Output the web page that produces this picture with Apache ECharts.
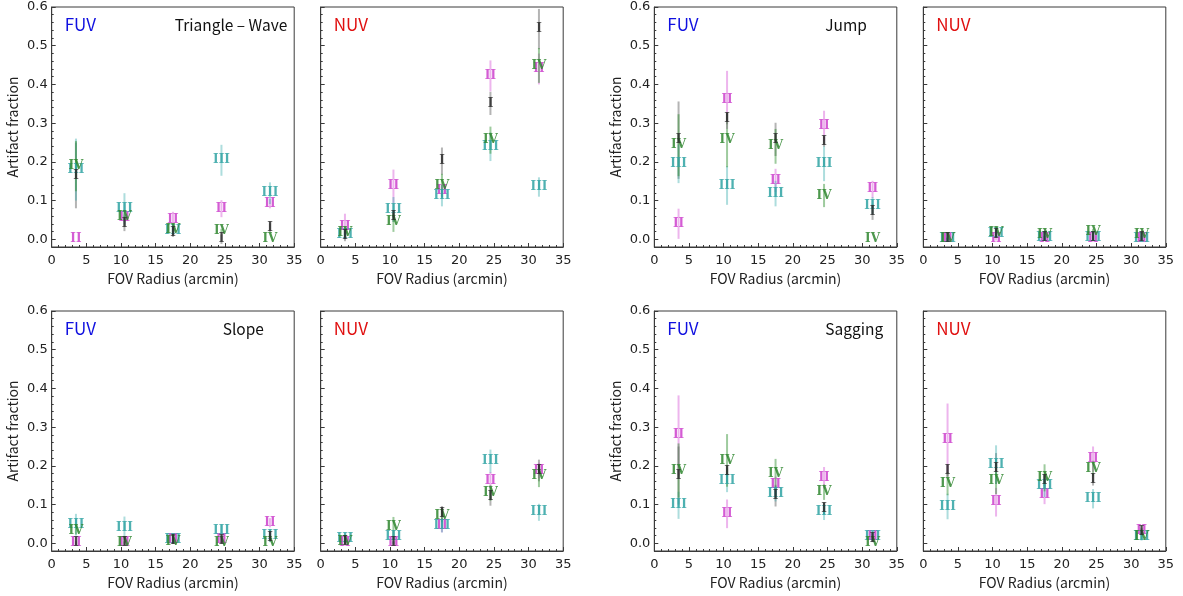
<!DOCTYPE html>
<html><head><meta charset="utf-8">
<script src="https://cdn.jsdelivr.net/npm/echarts@6/dist/echarts.min.js"></script>
<style>html,body{margin:0;padding:0;background:#fff}#c{width:1183px;height:596px}</style>
</head><body><div id="c"></div>
<script>
// ---------- data ----------
const radii = [3.5, 10.5, 17.5, 24.5, 31.5];
const numerals = ['I', 'II', 'III', 'IV'];
const yTickValues = [0, 0.1, 0.2, 0.3, 0.4, 0.5, 0.6];
const xTickValues = [0, 5, 10, 15, 20, 25, 30, 35];

// Triangle – Wave, FUV
const waveFUV_I = [0.165, 0.041, 0.016, 0.0, 0.029];
const waveFUV_I_err = [0.085, 0.02, 0.01, 0.012, 0.012];
const waveFUV_II = [0.0, 0.055, 0.051, 0.079, 0.092];
const waveFUV_II_err = [0.0, 0.01, 0.02, 0.022, 0.012];
const waveFUV_III = [0.18, 0.079, 0.022, 0.204, 0.119];
const waveFUV_III_err = [0.08, 0.04, 0.01, 0.04, 0.028];
const waveFUV_IV = [0.189, 0.059, 0.024, 0.022, 0.0];
const waveFUV_IV_err = [0.065, 0.01, 0.01, 0.005, 0.0];
// Triangle – Wave, NUV
const waveNUV_I = [0.01, 0.057, 0.202, 0.351, 0.543];
const waveNUV_I_err = [0.015, 0.012, 0.035, 0.03, 0.052];
const waveNUV_II = [0.033, 0.137, 0.126, 0.422, 0.44];
const waveNUV_II_err = [0.033, 0.043, 0.015, 0.04, 0.04];
const waveNUV_III = [0.012, 0.077, 0.113, 0.239, 0.135];
const waveNUV_III_err = [0.012, 0.032, 0.028, 0.037, 0.025];
const waveNUV_IV = [0.016, 0.044, 0.139, 0.256, 0.449];
const waveNUV_IV_err = [0.012, 0.025, 0.03, 0.035, 0.045];
// Jump, FUV
const jumpFUV_I = [0.256, 0.312, 0.258, 0.252, 0.07];
const jumpFUV_I_err = [0.1, 0.015, 0.043, 0.013, 0.02];
const jumpFUV_II = [0.04, 0.36, 0.152, 0.293, 0.129];
const jumpFUV_II_err = [0.039, 0.075, 0.03, 0.039, 0.022];
const jumpFUV_III = [0.195, 0.139, 0.118, 0.195, 0.087];
const jumpFUV_III_err = [0.05, 0.05, 0.033, 0.045, 0.022];
const jumpFUV_IV = [0.243, 0.256, 0.24, 0.113, 0.0];
const jumpFUV_IV_err = [0.08, 0.07, 0.045, 0.03, 0.0];
// Jump, NUV
const jumpNUV_I = [0.0, 0.011, 0.003, 0.003, 0.003];
const jumpNUV_I_err = [0.004, 0.006, 0.005, 0.005, 0.005];
const jumpNUV_II = [0.0, 0.001, 0.0, 0.001, 0.0];
const jumpNUV_II_err = [0.002, 0.004, 0.003, 0.004, 0.003];
const jumpNUV_III = [0.0, 0.014, 0.003, 0.004, 0.002];
const jumpNUV_III_err = [0.004, 0.006, 0.005, 0.006, 0.005];
const jumpNUV_IV = [0.0, 0.016, 0.012, 0.02, 0.011];
const jumpNUV_IV_err = [0.004, 0.006, 0.006, 0.007, 0.006];
// Slope, FUV
const slopeFUV_I = [0.0, 0.0, 0.007, 0.007, 0.014];
const slopeFUV_I_err = [0.005, 0.005, 0.005, 0.006, 0.01];
const slopeFUV_II = [0.0, 0.0, 0.01, 0.009, 0.053];
const slopeFUV_II_err = [0.0, 0.0, 0.005, 0.008, 0.012];
const slopeFUV_III = [0.048, 0.039, 0.009, 0.033, 0.02];
const slopeFUV_III_err = [0.028, 0.03, 0.008, 0.015, 0.017];
const slopeFUV_IV = [0.033, 0.0, 0.003, 0.0, 0.0];
const slopeFUV_IV_err = [0.01, 0.0, 0.005, 0.0, 0.0];
// Slope, NUV
const slopeNUV_I = [0.003, 0.0, 0.076, 0.119, 0.188];
const slopeNUV_I_err = [0.005, 0.005, 0.02, 0.022, 0.028];
const slopeNUV_II = [0.0, 0.0, 0.046, 0.162, 0.188];
const slopeNUV_II_err = [0.005, 0.005, 0.018, 0.022, 0.02];
const slopeNUV_III = [0.011, 0.016, 0.046, 0.212, 0.08];
const slopeNUV_III_err = [0.01, 0.018, 0.018, 0.03, 0.022];
const slopeNUV_IV = [0.003, 0.043, 0.072, 0.13, 0.175];
const slopeNUV_IV_err = [0.005, 0.025, 0.018, 0.02, 0.03];
// Sagging, FUV
const sagFUV_I = [0.175, 0.184, 0.123, 0.089, 0.011];
const sagFUV_I_err = [0.075, 0.012, 0.028, 0.014, 0.008];
const sagFUV_II = [0.279, 0.076, 0.152, 0.169, 0.016];
const sagFUV_II_err = [0.103, 0.037, 0.02, 0.028, 0.008];
const sagFUV_III = [0.098, 0.162, 0.128, 0.082, 0.016];
const sagFUV_III_err = [0.035, 0.03, 0.02, 0.022, 0.01];
const sagFUV_IV = [0.188, 0.214, 0.178, 0.132, 0.0];
const sagFUV_IV_err = [0.07, 0.068, 0.04, 0.02, 0.0];
// Sagging, NUV
const sagNUV_I = [0.188, 0.193, 0.162, 0.165, 0.03];
const sagNUV_I_err = [0.015, 0.04, 0.014, 0.016, 0.008];
const sagNUV_II = [0.266, 0.106, 0.126, 0.217, 0.031];
const sagNUV_II_err = [0.095, 0.037, 0.025, 0.033, 0.008];
const sagNUV_III = [0.095, 0.203, 0.149, 0.115, 0.017];
const sagNUV_III_err = [0.033, 0.05, 0.03, 0.025, 0.01];
const sagNUV_IV = [0.154, 0.162, 0.169, 0.193, 0.017];
const sagNUV_IV_err = [0.03, 0.035, 0.035, 0.02, 0.008];

// ---------- layout / style ----------
const colors = ['#2a2a2a', '#cc3fcc', '#2fa3a3', '#2e862e'];
const errColors = ['rgba(40,40,40,0.35)', 'rgba(210,70,210,0.4)', 'rgba(50,170,170,0.4)', 'rgba(40,140,40,0.45)'];
const lefts = [51.7, 320.7, 654.3, 923.3];
const tops = [7, 311];
const W = 242.5, H = 240;
const labelFont = '"Noto Sans CJK JP", "Noto Sans", sans-serif';

const panels = [
  { row: 0, col: 0, band: 'FUV', kind: 'Triangle – Wave', kindX: 123, vals: [waveFUV_I, waveFUV_II, waveFUV_III, waveFUV_IV], errs: [waveFUV_I_err, waveFUV_II_err, waveFUV_III_err, waveFUV_IV_err] },
  { row: 0, col: 1, band: 'NUV', vals: [waveNUV_I, waveNUV_II, waveNUV_III, waveNUV_IV], errs: [waveNUV_I_err, waveNUV_II_err, waveNUV_III_err, waveNUV_IV_err] },
  { row: 0, col: 2, band: 'FUV', kind: 'Jump', kindX: 171, vals: [jumpFUV_I, jumpFUV_II, jumpFUV_III, jumpFUV_IV], errs: [jumpFUV_I_err, jumpFUV_II_err, jumpFUV_III_err, jumpFUV_IV_err] },
  { row: 0, col: 3, band: 'NUV', vals: [jumpNUV_I, jumpNUV_II, jumpNUV_III, jumpNUV_IV], errs: [jumpNUV_I_err, jumpNUV_II_err, jumpNUV_III_err, jumpNUV_IV_err] },
  { row: 1, col: 0, band: 'FUV', kind: 'Slope', kindX: 171, vals: [slopeFUV_I, slopeFUV_II, slopeFUV_III, slopeFUV_IV], errs: [slopeFUV_I_err, slopeFUV_II_err, slopeFUV_III_err, slopeFUV_IV_err] },
  { row: 1, col: 1, band: 'NUV', vals: [slopeNUV_I, slopeNUV_II, slopeNUV_III, slopeNUV_IV], errs: [slopeNUV_I_err, slopeNUV_II_err, slopeNUV_III_err, slopeNUV_IV_err] },
  { row: 1, col: 2, band: 'FUV', kind: 'Sagging', kindX: 171, vals: [sagFUV_I, sagFUV_II, sagFUV_III, sagFUV_IV], errs: [sagFUV_I_err, sagFUV_II_err, sagFUV_III_err, sagFUV_IV_err] },
  { row: 1, col: 3, band: 'NUV', vals: [sagNUV_I, sagNUV_II, sagNUV_III, sagNUV_IV], errs: [sagNUV_I_err, sagNUV_II_err, sagNUV_III_err, sagNUV_IV_err] }
];

const grid = [], xAxis = [], yAxis = [], series = [], graphic = [];
const axisColor = '#3a3a3a';
const minorY = [];
for (let v = 0; v <= 60; v += 2) minorY.push(v / 100);

panels.forEach((p, i) => {
  const left = lefts[p.col], top = tops[p.row];
  grid.push({ left: left, top: top, width: W, height: H, show: true, borderColor: axisColor, borderWidth: 1, backgroundColor: 'transparent' });
  const showY = p.band === 'FUV';
  xAxis.push({
    gridIndex: i, type: 'value', min: 0, max: 35, interval: 5,
    name: 'FOV Radius (arcmin)', nameLocation: 'middle', nameGap: 25,
    nameTextStyle: { fontFamily: labelFont, fontSize: 14, color: '#222' },
    axisLine: { show: true, onZero: false, lineStyle: { color: axisColor, width: 1 } },
    axisTick: { show: true, inside: true, length: 4, lineStyle: { color: axisColor } },
    minorTick: { show: true, splitNumber: 5, length: 2, lineStyle: { color: axisColor } },
    axisLabel: { show: true, margin: 7, fontFamily: 'DejaVu Sans', fontSize: 13, color: '#222' },
    splitLine: { show: false }, minorSplitLine: { show: false }
  });
  yAxis.push({
    gridIndex: i, type: 'value', min: -0.02, max: 0.6,
    name: showY ? 'Artifact fraction' : '', nameLocation: 'middle', nameGap: 32,
    nameTextStyle: { fontFamily: labelFont, fontSize: 14, color: '#222' },
    axisLine: { show: true, onZero: false, lineStyle: { color: axisColor, width: 1 } },
    axisTick: { show: true, inside: true, length: 4, customValues: yTickValues, lineStyle: { color: axisColor } },
    axisLabel: { show: showY, margin: 4, customValues: yTickValues, fontFamily: 'DejaVu Sans', fontSize: 13, color: '#222', formatter: v => v.toFixed(1) },
    splitLine: { show: false }
  });
  // extra y axis for minor ticks
  yAxis.push({
    gridIndex: i, type: 'value', min: -0.02, max: 0.6, position: 'left',
    axisLine: { show: false },
    axisTick: { show: true, inside: true, length: 2, customValues: minorY, lineStyle: { color: axisColor } },
    axisLabel: { show: false }, splitLine: { show: false }
  });
  const yIdx = i * 2;
  // error bars
  numerals.forEach((num, k) => {
    const data = radii.map((r, j) => [r, p.vals[k][j], p.errs[k][j]]);
    series.push({
      type: 'custom', xAxisIndex: i, yAxisIndex: yIdx, z: 2, silent: true, clip: false,
      data: data,
      renderItem: (params, api) => {
        const x = api.value(0), y = api.value(1), e = api.value(2);
        const a = api.coord([x, y + e]), b = api.coord([x, y - e]);
        return { type: 'line', shape: { x1: a[0], y1: a[1], x2: b[0], y2: b[1] }, style: { stroke: errColors[k], lineWidth: 2 } };
      }
    });
  });
  // numeral markers
  [1, 2, 3, 0].forEach(k => {
    const num = numerals[k];
    const data = radii.map((r, j) => [r, p.vals[k][j]]);
    series.push({
      type: 'custom', xAxisIndex: i, yAxisIndex: yIdx, z: 3, silent: true, clip: false,
      data: data,
      renderItem: (params, api) => {
        const c = api.coord([api.value(0), api.value(1)]);
        return { type: 'text', style: { text: num, x: c[0], y: c[1], fill: colors[k], opacity: 0.85, font: '600 12px "DejaVu Serif"', align: 'center', verticalAlign: 'middle' } };
      }
    });
  });
  // panel labels
  graphic.push({ type: 'text', left: left + 13, top: top + 9, style: { text: p.band, fill: p.band === 'FUV' ? '#1010e0' : '#e01010', font: '17px ' + labelFont } });
  if (p.kind) {
    graphic.push({ type: 'text', left: left + p.kindX, top: top + 10, style: { text: p.kind, fill: '#111', font: '15.5px ' + labelFont } });
  }
});

const chart = echarts.init(document.getElementById('c'), null, { renderer: 'canvas' });
chart.setOption({ animation: false, grid, xAxis, yAxis, series, graphic });
</script></body></html>
